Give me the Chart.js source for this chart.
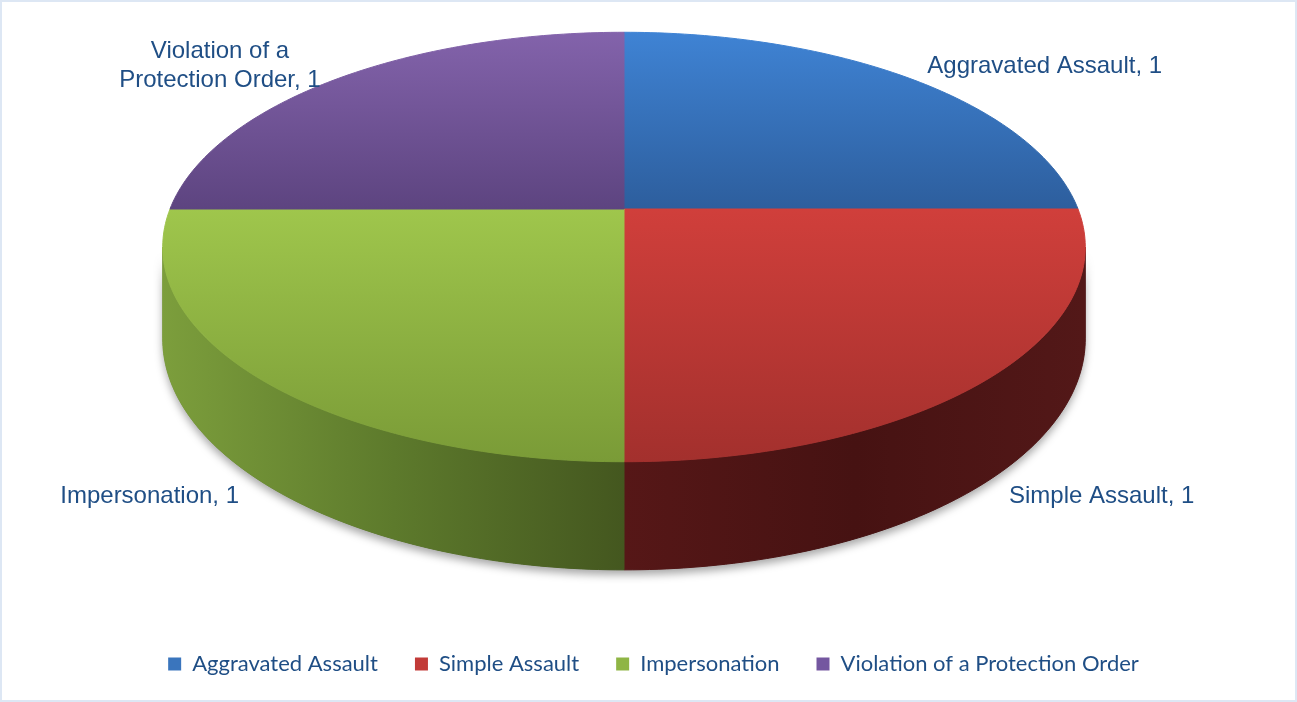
<!DOCTYPE html>
<html>
<head>
<meta charset="utf-8">
<script src="https://cdn.jsdelivr.net/npm/chart.js@4.4.1/dist/chart.umd.min.js"></script>
<style>
  html, body { margin: 0; padding: 0; background: #fff; }
  #wrap { width: 1297px; height: 702px; }
</style>
</head>
<body>
<div id="wrap"><canvas id="pie"></canvas></div>
<script>
// ── Data ─────────────────────────────────────────────────────────────────────

const categories = ['Aggravated Assault', 'Simple Assault', 'Impersonation', 'Violation of a Protection Order'];
const counts     = [1, 1, 1, 1];

// ── Look ─────────────────────────────────────────────────────────────────────

const TOP_COLORS  = [['#3f83d4', '#2d5e9d'], ['#d03f3b', '#a3302d'], ['#9fc64c', '#7a9b37'], ['#8363ab', '#5d4480']];
const SIDE_COLORS = [['#24497a', '#1c3a62'], ['#561717', '#461212', '#531818'], ['#7c9e3c', '#5d7a2c', '#44571f'], ['#4c3869', '#3d2d55']];
const LEGEND_COLORS = ['#3a75bd', '#c23b38', '#8fb545', '#7457a0'];
const TEXT_COLOR = '#1f4e85';

// projected disc: centre, radii, perspective factor, wall depth
const VIEW = { cx: 624, cy: 209, rx: 454, ry: 208, k: 0.177, depth: 89 };
const LABEL_GAP = { x: 18, up: 12, down: 18 };
const STEPS = 90;

function proj(a, r, level) {
  const u = Math.cos(a) * r, v = Math.sin(a) * r;
  const f = 1 / (1 - VIEW.k * Math.sin(a));
  return [VIEW.cx + VIEW.rx * u * f, VIEW.cy + VIEW.ry * v * f + level * VIEW.depth * f];
}

function wrap(ctx, text, maxW) {
  const words = text.split(' ');
  const lines = [];
  let cur = '';
  words.forEach(w => {
    const t = cur ? cur + ' ' + w : w;
    if (ctx.measureText(t).width > maxW && cur) { lines.push(cur); cur = w; }
    else cur = t;
  });
  lines.push(cur);
  return lines;
}

// ── 3D pie drawing (uses the arc angles computed by Chart.js) ────────────────

const pie3d = {
  id: 'pie3d',
  beforeDraw(chart) {
    const ctx = chart.ctx;
    ctx.save();
    ctx.fillStyle = '#fff';
    ctx.fillRect(0, 0, chart.width, chart.height);
    ctx.strokeStyle = '#dde7f4';
    ctx.lineWidth = 2;
    ctx.strokeRect(1, 1, chart.width - 2, chart.height - 2);
    ctx.restore();
  },
  beforeDatasetsDraw(chart) {
    const ctx = chart.ctx;
    const arcs = chart.getDatasetMeta(0).data;
    const f0 = Math.asin(VIEW.k), f1 = Math.PI - f0;

    ctx.save();

    // soft shadow under the whole front wall
    ctx.save();
    ctx.shadowColor = 'rgba(0,0,0,0.35)';
    ctx.shadowBlur = 9;
    ctx.shadowOffsetY = 5;
    ctx.beginPath();
    for (let j = 0; j <= STEPS; j++) {
      const p = proj(f0 + (f1 - f0) * j / STEPS, 1, 1);
      j ? ctx.lineTo(p[0], p[1]) : ctx.moveTo(p[0], p[1]);
    }
    for (let j = STEPS; j >= 0; j--) {
      const p = proj(f0 + (f1 - f0) * j / STEPS, 1, 0);
      ctx.lineTo(p[0], p[1]);
    }
    ctx.closePath();
    ctx.fillStyle = '#555';
    ctx.fill();
    ctx.restore();

    // walls
    arcs.forEach((arc, i) => {
      const a0 = Math.max(arc.startAngle, f0), a1 = Math.min(arc.endAngle, f1);
      if (a1 <= a0) return;
      ctx.beginPath();
      for (let j = 0; j <= STEPS; j++) {
        const p = proj(a0 + (a1 - a0) * j / STEPS, 1, 0);
        j ? ctx.lineTo(p[0], p[1]) : ctx.moveTo(p[0], p[1]);
      }
      for (let j = STEPS; j >= 0; j--) {
        const p = proj(a0 + (a1 - a0) * j / STEPS, 1, 1);
        ctx.lineTo(p[0], p[1]);
      }
      ctx.closePath();
      const pa = proj(a0, 1, 0), pb = proj(a1, 1, 0);
      const g = ctx.createLinearGradient(Math.min(pa[0], pb[0]), 0, Math.max(pa[0], pb[0]), 0);
      const cols = SIDE_COLORS[i];
      cols.forEach((c, n) => g.addColorStop(n / (cols.length - 1), c));
      ctx.fillStyle = g;
      ctx.strokeStyle = g;
      ctx.lineWidth = 1;
      ctx.fill();
      ctx.stroke();
    });

    // top faces
    arcs.forEach((arc, i) => {
      const c = proj(0, 0, 0);
      let minY = c[1], maxY = c[1];
      ctx.beginPath();
      ctx.moveTo(c[0], c[1]);
      for (let j = 0; j <= STEPS; j++) {
        const p = proj(arc.startAngle + (arc.endAngle - arc.startAngle) * j / STEPS, 1, 0);
        minY = Math.min(minY, p[1]); maxY = Math.max(maxY, p[1]);
        ctx.lineTo(p[0], p[1]);
      }
      ctx.closePath();
      const g = ctx.createLinearGradient(0, minY, 0, maxY);
      g.addColorStop(0, TOP_COLORS[i][0]);
      g.addColorStop(1, TOP_COLORS[i][1]);
      ctx.fillStyle = g;
      ctx.strokeStyle = g;
      ctx.lineWidth = 1;
      ctx.fill();
      ctx.stroke();
    });

    ctx.restore();
    return false;
  },
  afterDraw(chart) {
    const ctx = chart.ctx;
    const arcs = chart.getDatasetMeta(0).data;
    ctx.save();
    ctx.font = '24px "Liberation Sans", Arial, sans-serif';
    ctx.fillStyle = TEXT_COLOR;
    ctx.textAlign = 'center';
    ctx.textBaseline = 'middle';
    arcs.forEach((arc, i) => {
      const mid = (arc.startAngle + arc.endAngle) / 2;
      const below = Math.sin(mid) > 0, right = Math.cos(mid) > 0;
      const p = proj(mid, 1, below ? 1 : 0);
      const x = p[0] + (right ? LABEL_GAP.x : -LABEL_GAP.x);
      const y = p[1] + (below ? LABEL_GAP.down : -LABEL_GAP.up);
      const lines = wrap(ctx, categories[i] + ', ' + counts[i], 250);
      const w = Math.max(...lines.map(l => ctx.measureText(l).width));
      const bx = right ? x : x - w;
      const lh = 29;
      const y0 = y - (lines.length - 1) * lh / 2;
      lines.forEach((l, j) => ctx.fillText(l, bx + w / 2, y0 + j * lh));
    });
    ctx.restore();
  }
};

// ── Chart ────────────────────────────────────────────────────────────────────

new Chart(document.getElementById('pie'), {
  type: 'pie',
  data: {
    labels: categories,
    datasets: [{ data: counts, backgroundColor: LEGEND_COLORS, borderWidth: 0 }]
  },
  options: {
    responsive: true,
    maintainAspectRatio: false,
    animation: false,
    events: [],
    layout: { padding: { top: 0, left: 10, right: 0, bottom: 17 } },
    plugins: {
      tooltip: { enabled: false },
      legend: {
        position: 'bottom',
        labels: {
          boxWidth: 13,
          boxHeight: 13,
          padding: 37,
          color: TEXT_COLOR,
          font: { family: 'Lato, "Open Sans", sans-serif', size: 22 }
        }
      }
    }
  },
  plugins: [pie3d]
});
</script>
</body>
</html>
